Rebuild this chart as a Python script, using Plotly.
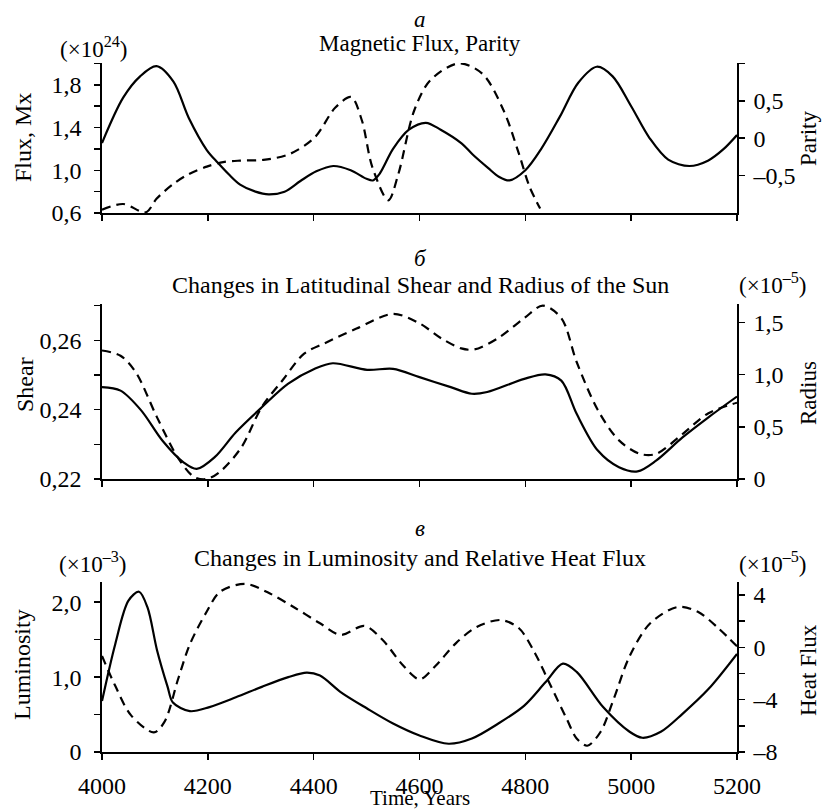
import plotly.graph_objects as go

W, H = 822, 812

# ---------------- data ----------------
# Panel а: magnetic flux (x1e24 Mx) and parity
flux_years = [4000, 4040, 4072, 4103, 4135, 4164, 4198, 4219, 4240, 4261, 4290, 4315, 4345, 4375,
              4405, 4437, 4470, 4500, 4512, 4525, 4550, 4580, 4612, 4640, 4680, 4700, 4730, 4750,
              4770, 4800, 4830, 4865, 4900, 4935, 4965, 5000, 5035, 5070, 5110, 5145, 5175, 5200]
flux = [1.256, 1.68, 1.88, 1.975, 1.83, 1.49, 1.19, 1.07, 0.96, 0.866, 0.80, 0.775, 0.80, 0.90,
        0.99, 1.04, 1.00, 0.92, 0.905, 0.97, 1.20, 1.38, 1.445, 1.38, 1.25, 1.15, 1.02, 0.94,
        0.905, 1.00, 1.20, 1.50, 1.82, 1.97, 1.88, 1.60, 1.30, 1.10, 1.04, 1.09, 1.20, 1.33]

parity_years = [4000, 4040, 4083, 4103, 4135, 4164, 4198, 4229, 4261, 4305, 4355, 4402, 4441,
                4471, 4491, 4511, 4541, 4560, 4590, 4620, 4674, 4719, 4759, 4788, 4808, 4828]
parity = [-0.955, -0.88, -0.99, -0.81, -0.61, -0.48, -0.38, -0.32, -0.30, -0.29, -0.21, 0.01,
          0.41, 0.55, 0.24, -0.39, -0.83, -0.48, 0.37, 0.77, 1.00, 0.86, 0.37, -0.21, -0.65, -0.94]

# Panel б: latitudinal shear and radius (x1e-5)
shear_years = [4000, 4035, 4074, 4114, 4154, 4179, 4213, 4253, 4302, 4352, 4402, 4436, 4501,
               4550, 4600, 4659, 4699, 4728, 4798, 4838, 4868, 4897, 4937, 4977, 5012, 5047,
               5097, 5146, 5200]
shear = [0.2465, 0.2455, 0.2398, 0.2311, 0.2248, 0.2229, 0.2263, 0.2335, 0.2407, 0.2475, 0.2518,
         0.2534, 0.2515, 0.2518, 0.2494, 0.2465, 0.2446, 0.2451, 0.2489, 0.2502, 0.2484, 0.2388,
         0.2282, 0.2234, 0.2222, 0.2253, 0.2320, 0.2378, 0.2438]

radius_years = [4000, 4035, 4064, 4104, 4144, 4174, 4198, 4223, 4263, 4302, 4342, 4382, 4421,
                4481, 4550, 4600, 4640, 4679, 4704, 4749, 4798, 4833, 4868, 4897, 4937, 4977,
                5017, 5047, 5097, 5146, 5200]
radius = [1.23, 1.18, 1.02, 0.59, 0.20, 0.02, 0.00, 0.07, 0.30, 0.69, 0.95, 1.20, 1.30,
          1.44, 1.58, 1.49, 1.35, 1.25, 1.24, 1.35, 1.54, 1.66, 1.54, 1.12, 0.66, 0.37,
          0.24, 0.24, 0.43, 0.63, 0.73]

# Panel в: luminosity (x1e-3) and relative heat flux (x1e-5)
lum_years = [4000, 4025, 4050, 4070, 4086, 4104, 4124, 4134, 4166, 4203, 4253, 4302, 4352, 4387,
             4412, 4451, 4501, 4550, 4600, 4655, 4699, 4749, 4798, 4838, 4871, 4897, 4947, 4997,
             5021, 5056, 5097, 5146, 5200]
lum = [0.68, 1.44, 2.02, 2.14, 1.93, 1.36, 0.87, 0.66, 0.545, 0.60, 0.73, 0.87, 1.00, 1.06,
       1.02, 0.80, 0.58, 0.38, 0.22, 0.11, 0.18, 0.38, 0.62, 0.93, 1.18, 1.07, 0.60, 0.27,
       0.19, 0.27, 0.51, 0.84, 1.31]

heat_years = [4000, 4025, 4055, 4098, 4118, 4144, 4166, 4198, 4223, 4270, 4312, 4362, 4412, 4451,
              4496, 4530, 4570, 4600, 4630, 4669, 4709, 4754, 4788, 4818, 4848, 4878, 4897, 4917,
              4942, 4967, 4997, 5036, 5088, 5126, 5165, 5200]
heat = [-0.66, -2.94, -5.20, -6.50, -5.70, -2.40, 0.23, 2.74, 4.25, 4.86, 4.23, 3.09, 1.84, 0.96,
        1.64, 0.58, -1.43, -2.44, -1.43, 0.33, 1.58, 2.09, 1.46, -0.43, -2.94, -5.45, -6.97, -7.52,
        -6.47, -3.95, -0.68, 1.84, 3.09, 2.72, 1.46, 0.08]

x_ticks = [4000, 4200, 4400, 4600, 4800, 5000, 5200]
x_ticktext = ["4000", "4200", "4400", "4600", "4800", "5000", "5200"]

flux_ticks = [0.6, 1.0, 1.4, 1.8]
flux_text = ["0,6", "1,0", "1,4", "1,8"]
parity_ticks = [-0.5, 0, 0.5]
parity_text = ["–0,5", "0", "0,5"]
shear_ticks = [0.22, 0.24, 0.26]
shear_text = ["0,22", "0,24", "0,26"]
radius_ticks = [0, 0.5, 1.0, 1.5]
radius_text = ["0", "0,5", "1,0", "1,5"]
lum_ticks = [0, 1.0, 2.0]
lum_text = ["0", "1,0", "2,0"]
heat_ticks = [-8, -4, 0, 4]
heat_text = ["–8", "–4", "0", "4"]

# ---------------- layout helpers ----------------
FONT = "Liberation Serif, Times New Roman, serif"
px = lambda v: v / W
py = lambda v: 1 - v / H

XD = [px(102), px(737)]
D1 = [py(213), py(63)]
D2 = [py(479), py(304)]
D3 = [py(752), py(582)]

fig = go.Figure()

def line(xs, ys, xa, ya, dash=None):
    fig.add_trace(go.Scatter(
        x=xs, y=ys, xaxis=xa, yaxis=ya, mode="lines", showlegend=False, hoverinfo="skip",
        line=dict(color="black", width=2.2, shape="spline", smoothing=0.9,
                  dash=dash if dash else "solid")))

DASH = "9px,6px"
line(flux_years, flux, "x", "y")
line(parity_years, parity, "x", "y2", DASH)
line(shear_years, shear, "x2", "y3")
line(radius_years, radius, "x2", "y4", DASH)
line(lum_years, lum, "x3", "y5")
line(heat_years, heat, "x3", "y6", DASH)

TICKFONT = dict(family=FONT, size=24, color="black")
base = dict(showline=True, linecolor="black", linewidth=1.6, ticks="outside", ticklen=6,
            tickwidth=1.5, tickcolor="black", showgrid=False, zeroline=False,
            tickfont=TICKFONT, automargin=False)

def xax(domain_anchor, labels):
    d = dict(base)
    d.update(domain=XD, range=[4000, 5200], tickmode="array", tickvals=x_ticks,
             ticktext=x_ticktext, showticklabels=labels, anchor=domain_anchor,
             ticklabelstandoff=6)
    return d

def yax(domain, rng, tv, tt, side, anchor, minor_vals=None, overlay=None):
    d = dict(base)
    d.update(range=rng, tickmode="array", tickvals=tv, ticktext=tt, side=side, anchor=anchor,
             ticklabelstandoff=8 if side == "left" else 4)
    if overlay:
        d["overlaying"] = overlay
    else:
        d["domain"] = domain
    if minor_vals:
        d["minor"] = dict(tickmode="array", tickvals=minor_vals, ticks="outside", ticklen=6,
                          tickwidth=1.5, tickcolor="black", showgrid=False)
    return d

fig.update_layout(
    width=W, height=H, margin=dict(l=0, r=0, t=0, b=0),
    paper_bgcolor="white", plot_bgcolor="white",
    xaxis=xax("y", False),
    xaxis2=xax("y3", False),
    xaxis3=xax("y5", True),
    yaxis=yax(D1, [0.6, 2.005], flux_ticks, flux_text, "left", "x", [0.8, 1.2, 1.6, 2.0]),
    yaxis2=yax(D1, [-1.0, 1.005], parity_ticks, parity_text, "right", "x", [1.0], overlay="y"),
    yaxis3=yax(D2, [0.22, 0.2705], shear_ticks, shear_text, "left", "x2", [0.23, 0.25, 0.27]),
    yaxis4=yax(D2, [0, 1.675], radius_ticks, radius_text, "right", "x2", None, overlay="y3"),
    yaxis5=yax(D3, [0, 2.27], lum_ticks, lum_text, "left", "x3", [0.5, 1.5]),
    yaxis6=yax(D3, [-8, 5], heat_ticks, heat_text, "right", "x3", [-6, -2, 2], overlay="y5"),
)

def ann(text, x, y, size=24, angle=0, yanchor="middle"):
    fig.add_annotation(text=text, x=px(x), y=py(y), xref="paper", yref="paper",
                       showarrow=False, xanchor="center", yanchor=yanchor, textangle=angle,
                       font=dict(family=FONT, size=size, color="black"))

# panel labels and titles
ann("<i>а</i>", 420, 20, 23)
ann("Magnetic Flux, Parity", 420, 43, 23)
ann("<i>б</i>", 420, 258, 23)
ann("Changes in Latitudinal Shear and Radius of the Sun", 420, 285, 24)
ann("<i>в</i>", 420, 528, 23)
ann("Changes in Luminosity and Relative Heat Flux", 420, 558, 24)

# multipliers
ann("(×10<sup>24</sup>)", 93, 47, 23)
ann("(×10<sup>–5</sup>)", 772, 283, 23)
ann("(×10<sup>–3</sup>)", 92, 562, 23)
ann("(×10<sup>–5</sup>)", 772, 562, 23)

# axis titles
ann("Flux, Mx", 23, 138, 24, -90)
ann("Parity", 808, 139, 23, -90)
ann("Shear", 25, 385, 24, -90)
ann("Radius", 808, 393, 23, -90)
ann("Luminosity", 22, 665, 24, -90)
ann("Heat Flux", 808, 670, 23, -90)
ann("Time, Years", 420, 812, 21, yanchor="bottom")

fig.write_html("out.html", config={"displayModeBar": False, "staticPlot": True},
               post_script="document.body.style.margin='0';document.body.style.overflow='hidden';")
